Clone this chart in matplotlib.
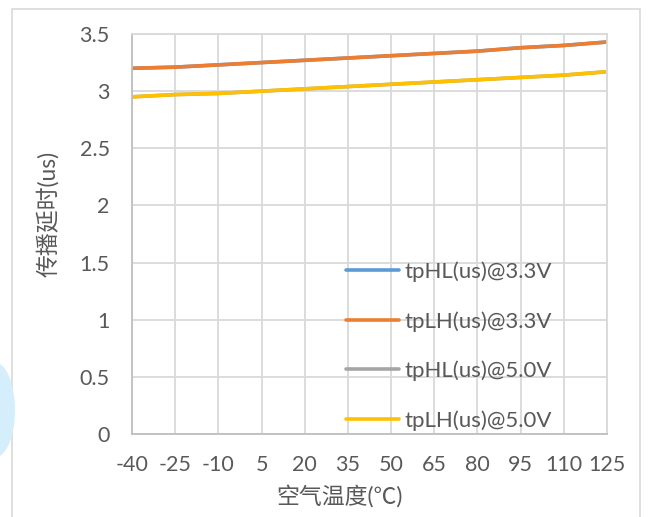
import numpy as np
import matplotlib.pyplot as plt
from matplotlib.patches import Rectangle, Ellipse

plt.rcParams['font.family'] = ['Lato', 'Noto Sans CJK SC', 'DejaVu Sans']

temps = ['-40', '-25', '-10', '5', '20', '35', '50', '65', '80', '95', '110', '125']
tphl_33 = [3.20, 3.21, 3.23, 3.25, 3.27, 3.29, 3.31, 3.33, 3.35, 3.38, 3.40, 3.43]
tplh_33 = [3.20, 3.21, 3.23, 3.25, 3.27, 3.29, 3.31, 3.33, 3.35, 3.38, 3.40, 3.43]
tphl_50 = [2.95, 2.97, 2.98, 3.00, 3.02, 3.04, 3.06, 3.08, 3.10, 3.12, 3.14, 3.17]
tplh_50 = [2.95, 2.97, 2.98, 3.00, 3.02, 3.04, 3.06, 3.08, 3.10, 3.12, 3.14, 3.17]
labels = ['tpHL(us)@3.3V', 'tpLH(us)@3.3V', 'tpHL(us)@5.0V', 'tpLH(us)@5.0V']
colors = ['#5b9bd5', '#ed7d31', '#a5a5a5', '#ffc000']

txt = '#595959'
fig = plt.figure(figsize=(6.49, 5.17), dpi=100)

# chart border + watermark blob at left edge
fig.patches.append(Rectangle((12 / 649, -0.1), 628 / 649, 1 - 9 / 517 + 0.1,
                             transform=fig.transFigure, fill=False,
                             edgecolor='#d9d9d9', lw=1.2))
fig.patches.append(Ellipse((-5 / 649, 1 - 410 / 517), 40 / 649, 95 / 517,
                           transform=fig.transFigure, color='#d4eefc', lw=0))

ax = fig.add_axes([132 / 649, 1 - 434 / 517, 475 / 649, 400 / 517])
x = np.arange(len(temps))
series = [tphl_33, tplh_33, tphl_50, tplh_50]
for s, lab, c in zip(series, labels, colors):
    ax.plot(x, s, color=c, lw=2.6, label=lab, solid_capstyle='round')

ax.set_xlim(0, len(temps) - 1)
ax.set_ylim(0, 3.5)
ax.set_xticks(x)
ax.set_xticklabels(temps)
ax.set_yticks(np.arange(0, 3.51, 0.5))
ax.set_yticklabels(['0', '0.5', '1', '1.5', '2', '2.5', '3', '3.5'])
ax.grid(True, color='#d9d9d9', lw=1.3)
ax.set_axisbelow(True)
for sp in ax.spines.values():
    sp.set_color('#d9d9d9')
    sp.set_linewidth(1.3)
ax.spines['left'].set_color('#bfbfbf')
ax.spines['bottom'].set_color('#bfbfbf')
ax.tick_params(length=0, labelsize=15.5, labelcolor=txt)
ax.tick_params(axis='x', pad=15)
ax.tick_params(axis='y', pad=16)

# axis titles (placed like the excel chart, x title sits left of centre)
fig.text(339 / 649, 1 - 496 / 517, '空气温度(℃)', fontsize=16.5, color=txt,
         ha='center', va='center')
fig.text(48 / 649, 1 - 214 / 517, '传播延时(us)', fontsize=16.5, color=txt,
         ha='center', va='center', rotation=90)

ax.legend(loc='center left', bbox_to_anchor=((346 - 132) / 475, (434 - 346) / 400),
          frameon=False, fontsize=16, labelcolor=txt, handlelength=2.4,
          handletextpad=0.23, labelspacing=1.3, borderpad=0, borderaxespad=0)

fig.savefig('out.png', dpi=100)
